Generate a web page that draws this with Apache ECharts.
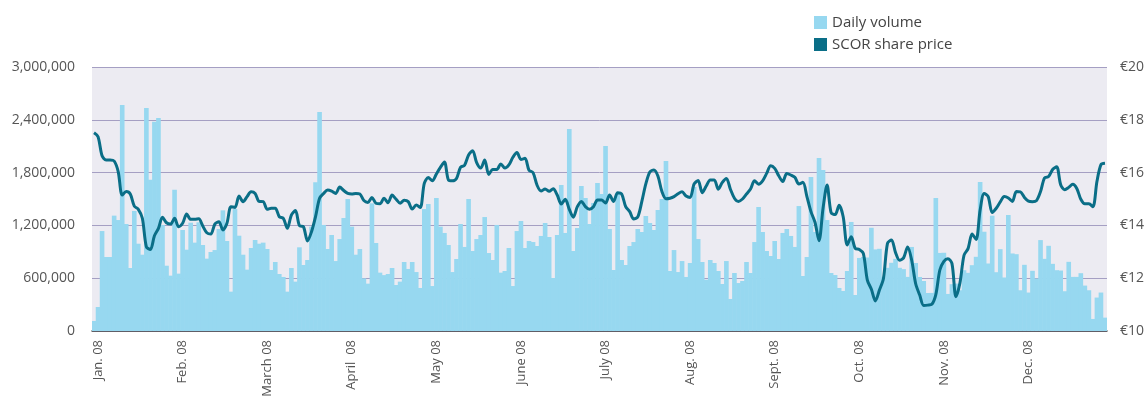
<!DOCTYPE html>
<html>
<head>
<meta charset="utf-8">
<title>SCOR share price and daily volume 2008</title>
<script src="https://cdn.jsdelivr.net/npm/echarts@6/dist/echarts.min.js"></script>
<style>
  html, body { margin: 0; padding: 0; background: #fff; }
  #chart { width: 1148px; height: 400px; }
</style>
</head>
<body>
<div id="chart"></div>
<script>
// month labels on the x axis, 21 trading-day slots per month
const monthLabels = ['Jan. 08', 'Feb. 08', 'March 08', 'April  08', 'May 08', 'June 08',
  'July 08', 'Aug. 08', 'Sept. 08', 'Oct. 08', 'Nov. 08', 'Dec. 08'];
const daysPerMonth = 21;

// daily volume, thousands of shares
const volumeJan = [114, 273, 1136, 841, 841, 1311, 1261, 2568, 1216, 716, 1364, 992, 867, 2534, 1720, 2379, 2420, 1205, 742, 629, 1606];
const volumeFeb = [652, 1148, 924, 1231, 1004, 1235, 977, 822, 898, 920, 1159, 1371, 1023, 447, 1386, 1083, 867, 697, 943, 1034, 992];
const volumeMar = [1004, 932, 693, 784, 648, 614, 447, 716, 561, 951, 750, 807, 1186, 1689, 2489, 1205, 932, 1091, 795, 1045, 1284];
const volumeApr = [1500, 1186, 867, 932, 598, 538, 1451, 1000, 663, 635, 648, 716, 523, 561, 784, 705, 784, 670, 489, 1386, 1443];
const volumeMay = [511, 1511, 1186, 1114, 977, 670, 818, 1216, 955, 1500, 909, 1045, 1091, 1295, 886, 807, 1205, 663, 682, 943, 511];
const volumeJun = [1136, 1250, 943, 1023, 1011, 966, 1080, 1227, 1068, 602, 1091, 1659, 1114, 2295, 909, 1170, 1648, 1511, 1216, 1455, 1682];
const volumeJul = [1557, 2102, 1159, 693, 1568, 807, 750, 966, 1011, 1159, 1125, 1307, 1227, 1148, 1375, 1500, 1932, 682, 920, 670, 795];
const volumeAug = [614, 773, 1636, 1045, 784, 583, 807, 773, 682, 534, 795, 364, 659, 545, 568, 784, 659, 1011, 1409, 1125, 909];
const volumeSep = [852, 1023, 818, 1114, 1159, 1080, 955, 1420, 625, 841, 1750, 1125, 1966, 1830, 1261, 659, 636, 489, 455, 682, 1239];
const volumeOct = [409, 830, 841, 835, 1173, 927, 934, 615, 718, 775, 820, 718, 703, 615, 955, 773, 614, 568, 432, 433, 1511];
const volumeNov = [887, 889, 421, 532, 539, 463, 691, 661, 748, 843, 1694, 1128, 767, 1310, 668, 930, 608, 1318, 881, 873, 463];
const volumeDec = [752, 437, 684, 596, 1033, 820, 968, 763, 691, 687, 452, 786, 615, 615, 657, 516, 463, 137, 380, 437, 152];

// SCOR share price, euros
const priceJan = [17.51, 17.36, 16.64, 16.48, 16.48, 16.44, 16.04, 15.15, 15.28, 15.19, 14.73, 14.61, 14.27, 13.19, 13.09, 13.61, 13.89, 14.31, 14.10, 14.05, 14.27];
const priceFeb = [13.95, 14.08, 14.43, 14.23, 14.23, 14.25, 13.98, 13.72, 13.67, 14.05, 14.14, 13.83, 14.08, 14.71, 14.68, 15.11, 14.90, 15.09, 15.27, 15.21, 14.91];
const priceMar = [14.90, 14.61, 14.65, 14.65, 14.33, 14.27, 13.89, 14.39, 14.56, 13.99, 13.95, 13.41, 13.76, 14.33, 15.03, 15.21, 15.34, 15.30, 15.21, 15.45, 15.32];
const priceApr = [15.21, 15.19, 15.21, 15.19, 14.94, 14.87, 15.06, 14.84, 14.82, 15.03, 14.86, 15.15, 14.99, 14.84, 14.95, 14.90, 14.62, 14.77, 14.68, 15.59, 15.81];
const priceMay = [15.69, 15.95, 16.20, 16.40, 15.72, 15.69, 15.78, 16.20, 16.28, 16.67, 16.83, 16.38, 16.17, 16.48, 15.93, 16.12, 16.12, 16.33, 16.17, 16.29, 16.58];
const priceJun = [16.76, 16.50, 16.54, 16.09, 16.00, 15.52, 15.30, 15.38, 15.29, 15.39, 15.15, 14.81, 14.99, 14.61, 14.31, 14.71, 14.91, 14.71, 14.61, 14.71, 14.96];
const priceJul = [14.96, 14.85, 15.15, 14.91, 15.24, 15.19, 14.71, 14.52, 14.24, 14.32, 14.90, 15.57, 16.02, 16.10, 15.87, 15.28, 15.01, 15.03, 15.09, 15.20, 15.27];
const priceAug = [15.11, 15.06, 15.57, 15.70, 15.24, 15.49, 15.72, 15.72, 15.37, 15.63, 15.78, 15.37, 15.03, 14.91, 15.00, 15.19, 15.38, 15.69, 15.56, 15.69, 15.97];
const priceSep = [16.26, 16.16, 15.88, 15.66, 15.97, 15.91, 15.82, 15.57, 15.63, 15.09, 14.52, 14.12, 13.42, 14.65, 15.53, 14.48, 14.41, 14.76, 14.33, 13.26, 13.57];
const priceOct = [13.13, 13.09, 12.94, 11.93, 11.58, 11.14, 11.55, 11.99, 13.32, 13.45, 12.97, 12.68, 12.77, 13.18, 12.69, 11.79, 11.36, 10.97, 10.98, 11.01, 11.38];
const priceNov = [12.31, 12.64, 12.74, 12.56, 11.30, 11.83, 12.87, 13.12, 13.67, 13.47, 14.58, 15.21, 15.09, 14.49, 14.65, 14.89, 15.09, 15.04, 14.91, 15.28, 15.27];
const priceDec = [15.06, 14.92, 14.90, 14.94, 15.28, 15.80, 15.85, 16.12, 16.22, 15.54, 15.35, 15.44, 15.56, 15.40, 14.99, 14.82, 14.82, 14.71, 15.66, 16.30, 16.35];

const volumeTicks = [0, 600000, 1200000, 1800000, 2400000, 3000000];
const priceTicks = [10, 12, 14, 16, 18, 20];

const volumes = [].concat(volumeJan, volumeFeb, volumeMar, volumeApr, volumeMay, volumeJun,
  volumeJul, volumeAug, volumeSep, volumeOct, volumeNov, volumeDec).map(v => v * 1000);
const prices = [].concat(priceJan, priceFeb, priceMar, priceApr, priceMay, priceJun,
  priceJul, priceAug, priceSep, priceOct, priceNov, priceDec);
const days = volumes.map((v, i) => 'd' + i);

const font = '"Open Sans", "Noto Sans", sans-serif';
const barColor = '#97d8f0';
const lineColor = '#0a6e87';
const chart = echarts.init(document.getElementById('chart'));

chart.setOption({
  animation: false,
  textStyle: { fontFamily: font },
  legend: {
    orient: 'vertical',
    left: 809,
    top: 10,
    itemWidth: 13,
    itemHeight: 13,
    itemGap: 7,
    textStyle: { fontSize: 15, color: '#444', fontFamily: font },
    data: [
      { name: 'Daily volume', icon: 'rect' },
      { name: 'SCOR share price', icon: 'rect' },
    ],
  },
  grid: {
    left: 92,
    right: 41,
    top: 67,
    bottom: 69,
    show: true,
    backgroundColor: '#ecebf2',
    borderWidth: 0,
    outerBoundsMode: 'none',
  },
  xAxis: {
    type: 'category',
    data: days,
    boundaryGap: true,
    axisLine: { lineStyle: { color: '#4a4a4a', width: 1.5 } },
    axisTick: {
      interval: idx => idx % daysPerMonth === 0,
      length: 5,
      lineStyle: { color: '#999' },
    },
    axisLabel: {
      interval: idx => idx % daysPerMonth === 1,
      formatter: (val, idx) => monthLabels[Math.floor(idx / daysPerMonth)],
      rotate: 90,
      margin: 9,
      fontSize: 13,
      color: '#555',
      fontFamily: font,
    },
  },
  yAxis: [
    {
      type: 'value',
      min: volumeTicks[0],
      max: volumeTicks[volumeTicks.length - 1],
      interval: volumeTicks[1] - volumeTicks[0],
      axisLine: { show: false },
      axisTick: { show: false },
      axisLabel: {
        margin: 17,
        fontSize: 14,
        color: '#555',
        fontFamily: font,
        formatter: v => v.toLocaleString('en-US'),
      },
      splitLine: { lineStyle: { color: '#a59fc3', width: 1 } },
    },
    {
      type: 'value',
      min: priceTicks[0],
      max: priceTicks[priceTicks.length - 1],
      interval: priceTicks[1] - priceTicks[0],
      axisLine: { show: false },
      axisTick: { show: false },
      splitLine: { show: false },
      axisLabel: {
        margin: 13,
        fontSize: 14,
        color: '#555',
        fontFamily: font,
        formatter: v => '€' + v,
      },
    },
  ],
  series: [
    {
      name: 'Daily volume',
      type: 'bar',
      data: volumes,
      yAxisIndex: 0,
      barWidth: '115%',
      itemStyle: { color: barColor },
    },
    {
      name: 'SCOR share price',
      type: 'line',
      data: prices,
      yAxisIndex: 1,
      smooth: 0.3,
      showSymbol: false,
      lineStyle: { color: lineColor, width: 3 },
      itemStyle: { color: lineColor },
      z: 5,
    },
  ],
});

window.addEventListener('resize', () => chart.resize());
</script>
</body>
</html>
